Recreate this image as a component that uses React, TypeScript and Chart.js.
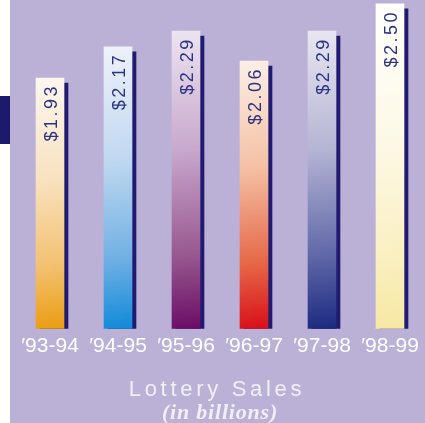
import { useEffect, useRef } from "react";
import { Chart, registerables } from "chart.js";

Chart.register(...registerables);

// ---- data ----
const categories = ["′93-94", "′94-95", "′95-96", "′96-97", "′97-98", "′98-99"];
const sales = [1.93, 2.17, 2.29, 2.06, 2.29, 2.5];
const titleText = "Lottery Sales";
const subtitleText = "(in billions)";

// ---- styles ----
const LAVENDER = "#bbb1d7";
const NAVY = "#1c1a6c";
const SHADOW = "#201a70";
const LABEL_COLOR = "#2b3382";
const TITLE_COLOR = "#f1eff8";
const barStops = [
  ["#fdf7ee", "#f8e2c0", "#f3c070", "#eb9c10"],
  ["#eef2fa", "#c0d8f0", "#70b0e4", "#108ad8"],
  ["#ece4f0", "#c8a8cc", "#985890", "#6a0c64"],
  ["#fcefe6", "#f4c0a4", "#e66848", "#d80e18"],
  ["#e8e6f0", "#b4b4d4", "#6068a8", "#1a2a80"],
  ["#fffffc", "#fdf9e8", "#faf0c4", "#f6e8a2"],
];
const stopPos = [0, 0.4, 0.75, 1];

export default function App() {
  const ref = useRef<HTMLCanvasElement>(null);

  useEffect(() => {
    const canvas = ref.current;
    if (!canvas) return;

    const textSpacing = {
      id: "textSpacing",
      beforeDraw(chart: any) {
        chart.boxes.forEach((b: any) => {
          const t = b.options && b.options.text;
          if (typeof t !== "string" || b.__wrapped) return;
          const spec =
            t === titleText ? { ls: 3.7, dx: -3 } : t === subtitleText ? { ls: 0.8, dx: 0 } : null;
          if (!spec) return;
          const orig = b.draw;
          b.draw = function (...args: any[]) {
            const c = chart.ctx;
            c.save();
            (c as any).letterSpacing = spec.ls + "px";
            c.translate(spec.dx, 0);
            orig.apply(this, args);
            c.restore();
          };
          b.__wrapped = true;
        });
      },
    };

    const barShadow = {
      id: "barShadow",
      beforeDatasetDraw(chart: any) {
        const c = chart.ctx;
        c.save();
        c.shadowColor = SHADOW;
        c.shadowOffsetX = 4;
        c.shadowOffsetY = 5;
        c.shadowBlur = 0;
      },
      afterDatasetDraw(chart: any) {
        chart.ctx.restore();
      },
    };

    const valueLabels = {
      id: "valueLabels",
      afterDatasetsDraw(chart: any) {
        const c = chart.ctx;
        const meta = chart.getDatasetMeta(0);
        meta.data.forEach((el: any, i: number) => {
          c.save();
          c.translate(el.x + 6.5, el.y + 6);
          c.rotate(-Math.PI / 2);
          c.font = '18px "Liberation Sans"';
          (c as any).letterSpacing = "2.5px";
          c.fillStyle = LABEL_COLOR;
          c.textAlign = "right";
          c.textBaseline = "alphabetic";
          c.fillText("$" + sales[i].toFixed(2), 0, 0);
          c.restore();
        });
      },
    };

    const chart = new Chart(canvas, {
      type: "bar",
      data: {
        labels: categories,
        datasets: [
          {
            data: sales,
            barThickness: 28,
            borderWidth: 0,
            backgroundColor: (ctx: any) => {
              const ch = ctx.chart;
              if (ctx.type !== "data" || !ch.chartArea) return barStops[0][1];
              const i = ctx.dataIndex;
              const xs = ch.scales.x;
              const ys = ch.scales.y;
              const xc = xs.getPixelForValue(i);
              const top = ys.getPixelForValue(sales[i]);
              const base = ys.getPixelForValue(0);
              const g = ch.ctx.createLinearGradient(xc - 14, top, xc + 14, base);
              barStops[i].forEach((col, k) => g.addColorStop(stopPos[k], col));
              return g;
            },
          },
        ],
      },
      options: {
        animation: false,
        responsive: false,
        events: [],
        layout: { padding: { left: 6, right: 1, top: 0, bottom: 0 } },
        scales: {
          x: {
            grid: { display: false, drawTicks: false },
            border: { display: false },
            ticks: {
              color: "#ffffff",
              padding: 5,
              font: { family: "Liberation Sans", size: 21 },
            },
          },
          y: { display: false, min: 0, max: 2.53 },
        },
        plugins: {
          legend: { display: false },
          tooltip: { enabled: false },
          title: {
            display: true,
            text: titleText,
            position: "bottom",
            color: TITLE_COLOR,
            weight: 1000,
            font: { family: "Liberation Sans", size: 22, weight: "normal", lineHeight: 1 },
            padding: { top: 15, bottom: 4 },
          } as any,
          subtitle: {
            display: true,
            text: subtitleText,
            position: "bottom",
            color: TITLE_COLOR,
            weight: 2000,
            font: { family: "Liberation Serif", size: 22, weight: "bold", style: "italic", lineHeight: 16 / 22 },
            padding: { top: 0, bottom: 2 },
          } as any,
        },
      } as any,
      plugins: [textSpacing, barShadow, valueLabels],
    });

    return () => chart.destroy();
  }, []);

  return (
    <div
      style={{
        position: "absolute",
        left: 0,
        top: 0,
        width: 425,
        height: 423,
        background: "#ffffff",
        overflow: "hidden",
      }}
    >
      <div
        style={{ position: "absolute", left: 0, top: 96, width: 10, height: 48, background: NAVY }}
      />
      <canvas
        ref={ref}
        width={415}
        height={423}
        style={{ position: "absolute", left: 10, top: 0, background: LAVENDER }}
      />
    </div>
  );
}
